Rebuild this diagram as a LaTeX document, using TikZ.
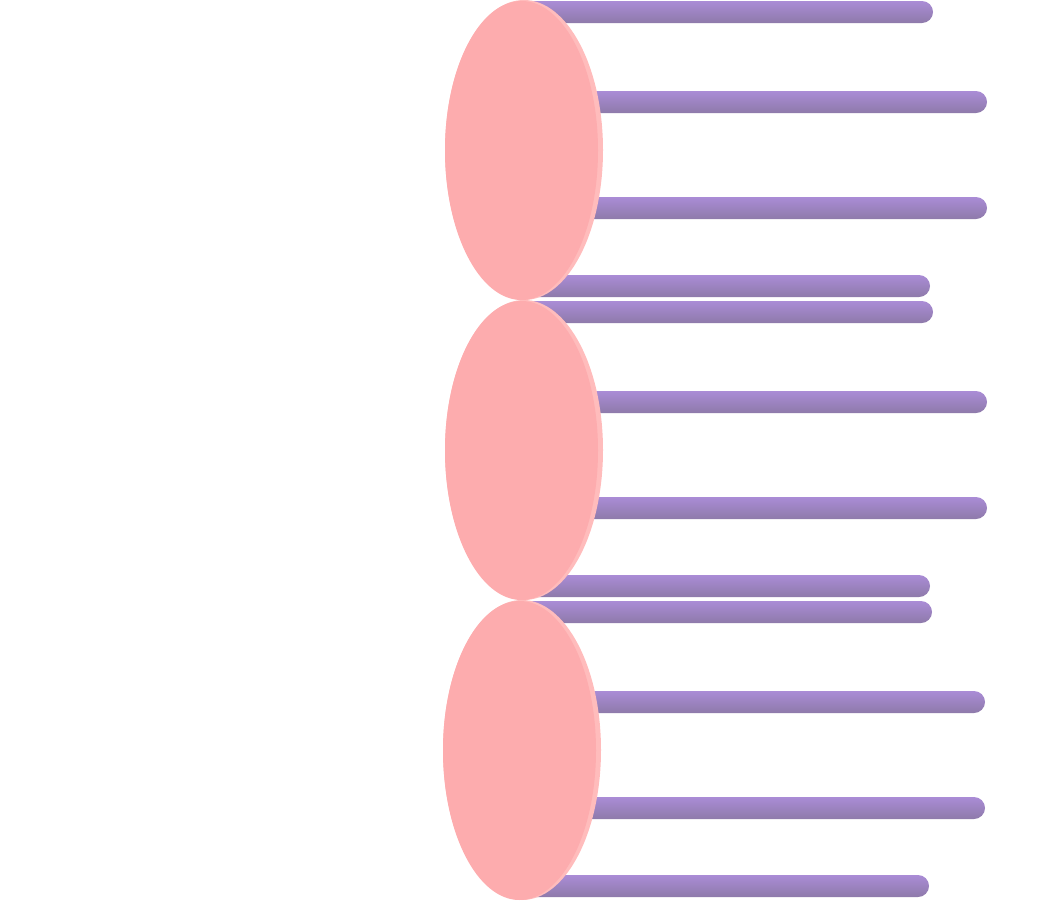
\documentclass[tikz,border=0pt]{standalone}
\usetikzlibrary{shadings}
\definecolor{barTop}{HTML}{AA8CD6}
\definecolor{barBot}{HTML}{8E7AAA}
\definecolor{petal}{HTML}{FDACAE}
\definecolor{petalRim}{HTML}{FFBCBC}
\tikzset{
  bar/.style={top color=barTop, bottom color=barBot, rounded corners=11pt},
  rim/.style={fill=petalRim, draw=none},
  petalbody/.style={fill=petal, draw=none}
}
\begin{document}
\begin{tikzpicture}[x=1pt,y=-1pt]
\useasboundingbox (0,0) rectangle (1050,900);
% bars
\foreach \ya/\xe in {1/933, 91/987, 197/987, 275/930, 301/933, 391/987, 497/987, 575/930, 601/932, 691/985, 797/985, 875/929}{
  \shade[bar] (523,\ya) rectangle (\xe,\ya+22);
}
% petals
\foreach \cx/\cy in {524/150, 524/450, 522/750}{
  \fill[rim] (\cx,\cy) ellipse [x radius=79, y radius=150];
  \fill[petalbody] (\cx-2.5,\cy+0.5) ellipse [x radius=76.5, y radius=149.5];
}
\end{tikzpicture}
\end{document}
